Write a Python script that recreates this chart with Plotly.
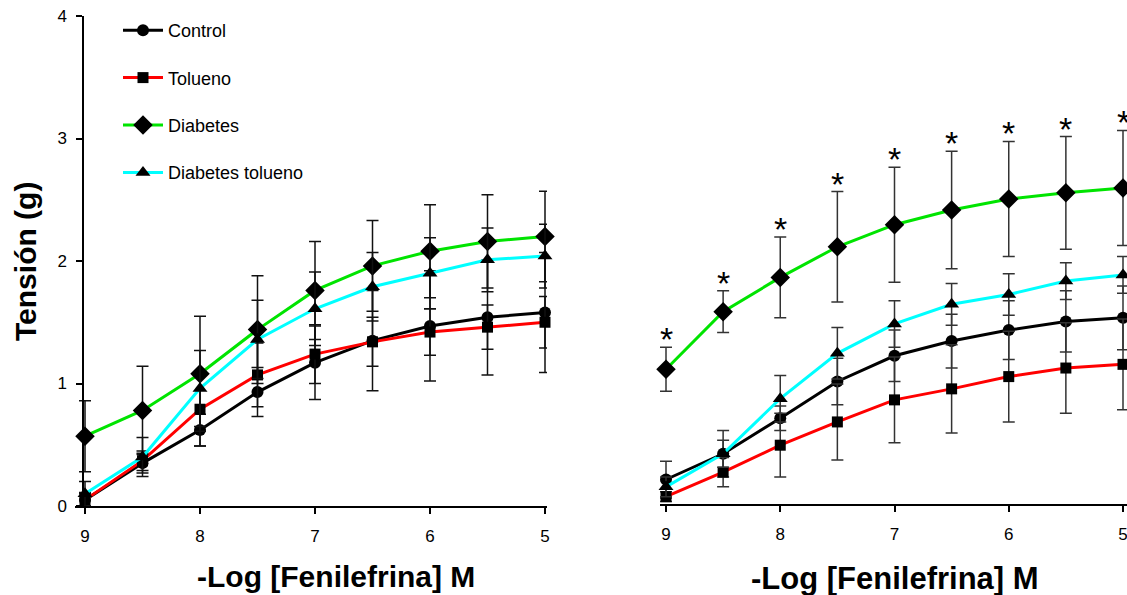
import plotly.graph_objects as go

# ---------------- data ----------------
x_log = [9, 8.5, 8, 7.5, 7, 6.5, 6, 5.5, 5]
x_ticks = [9, 8, 7, 6, 5]
x_ticklabels = ["9", "8", "7", "6", "5"]
y_ticks = [0, 1, 2, 3, 4]
y_ticklabels = ["0", "1", "2", "3", "4"]

series_names = ["Control", "Tolueno", "Diabetes", "Diabetes tolueno"]

# Left panel
L_control = [0.05, 0.35, 0.62, 0.93, 1.17, 1.35, 1.47, 1.54, 1.58]
L_control_err = [0.05, 0.08, 0.13, 0.20, 0.30, 0.41, 0.45, 0.47, 0.49]
L_tolueno = [0.05, 0.37, 0.79, 1.07, 1.24, 1.34, 1.42, 1.46, 1.50]
L_tolueno_err = [0.06, 0.08, 0.30, 0.26, 0.24, 0.20, 0.19, 0.18, 0.21]
L_diabetes = [0.57, 0.78, 1.08, 1.44, 1.76, 1.96, 2.08, 2.16, 2.20]
L_diabetes_err = [0.29, 0.36, 0.47, 0.44, 0.40, 0.37, 0.38, 0.38, 0.37]
L_diab_tol = [0.10, 0.40, 0.96, 1.36, 1.61, 1.79, 1.90, 2.01, 2.04]
L_diab_tol_err = [0.10, 0.16, 0.31, 0.32, 0.30, 0.28, 0.29, 0.26, 0.26]

# Right panel
R_control = [0.20, 0.41, 0.70, 1.00, 1.21, 1.33, 1.42, 1.49, 1.52]
R_control_err = [0.15, 0.19, 0.10, 0.19, 0.21, 0.22, 0.24, 0.25, 0.26]
R_tolueno = [0.06, 0.26, 0.48, 0.67, 0.85, 0.94, 1.04, 1.11, 1.14]
R_tolueno_err = [0.04, 0.12, 0.26, 0.31, 0.35, 0.36, 0.37, 0.37, 0.37]
R_diabetes = [1.10, 1.57, 1.85, 2.10, 2.28, 2.40, 2.49, 2.54, 2.58]
R_diabetes_err = [0.18, 0.17, 0.33, 0.45, 0.47, 0.48, 0.47, 0.46, 0.47]
R_diab_tol = [0.14, 0.41, 0.86, 1.23, 1.47, 1.63, 1.71, 1.82, 1.87]
R_diab_tol_err = [0.08, 0.11, 0.19, 0.21, 0.19, 0.17, 0.17, 0.15, 0.15]

# significance marks (right panel, Diabetes)
R_signif = [True] * 9

# ---------------- styles ----------------
colors = ["#000000", "#ff0000", "#00e400", "#00ffff"]
symbols = ["circle", "square", "diamond", "triangle-up"]
msizes = [12, 11, 15, 13]

W, H = 1127, 595
FONT = "Liberation Sans, Arial, sans-serif"
NARROW = "Liberation Sans Narrow, Arial Narrow, Liberation Sans, Arial, sans-serif"

fig = go.Figure()

left = [(L_control, L_control_err), (L_tolueno, L_tolueno_err),
        (L_diabetes, L_diabetes_err), (L_diab_tol, L_diab_tol_err)]
right = [(R_control, R_control_err), (R_tolueno, R_tolueno_err),
         (R_diabetes, R_diabetes_err), (R_diab_tol, R_diab_tol_err)]

for i, (yv, ev) in enumerate(left):
    fig.add_trace(go.Scatter(
        x=x_log, y=yv, name=series_names[i], legendgroup=series_names[i],
        mode="lines+markers", xaxis="x", yaxis="y",
        line=dict(color=colors[i], width=3),
        marker=dict(symbol=symbols[i], size=msizes[i], color="black"),
        error_y=dict(type="data", array=ev, color="#111111", thickness=1.5, width=6),
        cliponaxis=False,
    ))

for i, (yv, ev) in enumerate(right):
    fig.add_trace(go.Scatter(
        x=x_log, y=yv, name=series_names[i], legendgroup=series_names[i],
        showlegend=False,
        mode="lines+markers", xaxis="x2", yaxis="y2",
        line=dict(color=colors[i], width=3),
        marker=dict(symbol=symbols[i], size=msizes[i], color="black"),
        error_y=dict(type="data", array=ev, color="#333333", thickness=1.5, width=6),
        cliponaxis=False,
    ))

annotations = []
for xv, yv, ev, s in zip(x_log, R_diabetes, R_diabetes_err, R_signif):
    if s:
        annotations.append(dict(
            x=xv, y=yv + ev, xref="x2", yref="y2", text="*", showarrow=False,
            yanchor="middle", yshift=8,
            font=dict(family=FONT, size=34, color="black"),
        ))

annotations += [
    dict(text="<b>Tensión (g)</b>", x=25 / W, y=1 - 262 / H, xref="paper", yref="paper",
         textangle=-90, showarrow=False, xanchor="center", yanchor="middle",
         font=dict(family=FONT, size=30, color="black")),
    dict(text="<b>-Log [Fenilefrina] M</b>", x=336 / W, y=1 - 576 / H, xref="paper", yref="paper",
         showarrow=False, xanchor="center", yanchor="middle",
         font=dict(family=FONT, size=30, color="black")),
    dict(text="<b>-Log [Fenilefrina] M</b>", x=895 / W, y=1 - 578 / H, xref="paper", yref="paper",
         showarrow=False, xanchor="center", yanchor="middle",
         font=dict(family=FONT, size=31, color="black")),
]

# axis geometry (pixel -> paper)
ybot_L, ytop_L = 506, 16
ybot_R = 504
ppu = (ybot_L - ytop_L) / 4.0

axis_common = dict(showgrid=False, zeroline=False, showline=True, linecolor="black",
                   linewidth=1.5, ticks="outside", ticklen=6, tickwidth=1.5, tickcolor="black",
                   automargin=False, ticklabeloverflow="allow",
                   tickfont=dict(family=NARROW, size=17, color="black"))

fig.update_layout(
    width=W, height=H,
    margin=dict(l=0, r=0, t=0, b=0, autoexpand=False),
    paper_bgcolor="white", plot_bgcolor="white",
    showlegend=True,
    legend=dict(x=118 / W, y=1 - 12 / H, xanchor="left", yanchor="top",
                font=dict(family=FONT, size=18, color="black"),
                traceorder="grouped", tracegroupgap=21, bgcolor="rgba(0,0,0,0)",
                itemwidth=40),
    xaxis=dict(domain=[75 / W, 547 / W], range=[9 + 10 / 115, 5 - 2 / 115], anchor="y",
               tickvals=x_ticks, ticktext=x_ticklabels, ticklabelstandoff=8, **axis_common),
    yaxis=dict(domain=[1 - ybot_L / H, 1 - ytop_L / H], range=[0, 4], anchor="free",
               position=83 / W, tickvals=y_ticks, ticktext=y_ticklabels, ticklabelstandoff=6,
               **axis_common),
    xaxis2=dict(domain=[660 / W, 1.0], range=[9 + 6 / 114.25, 5 - 4 / 114.25], anchor="y2",
                tickvals=x_ticks, ticktext=x_ticklabels, ticklabelstandoff=8, **axis_common),
    yaxis2=dict(domain=[1 - ybot_R / H, 1 - (ybot_R - 4 * ppu) / H], range=[0, 4],
                showline=False, showticklabels=False, ticks="", showgrid=False, zeroline=False,
                automargin=False),
    annotations=annotations,
)

fig.write_html("out.html")
